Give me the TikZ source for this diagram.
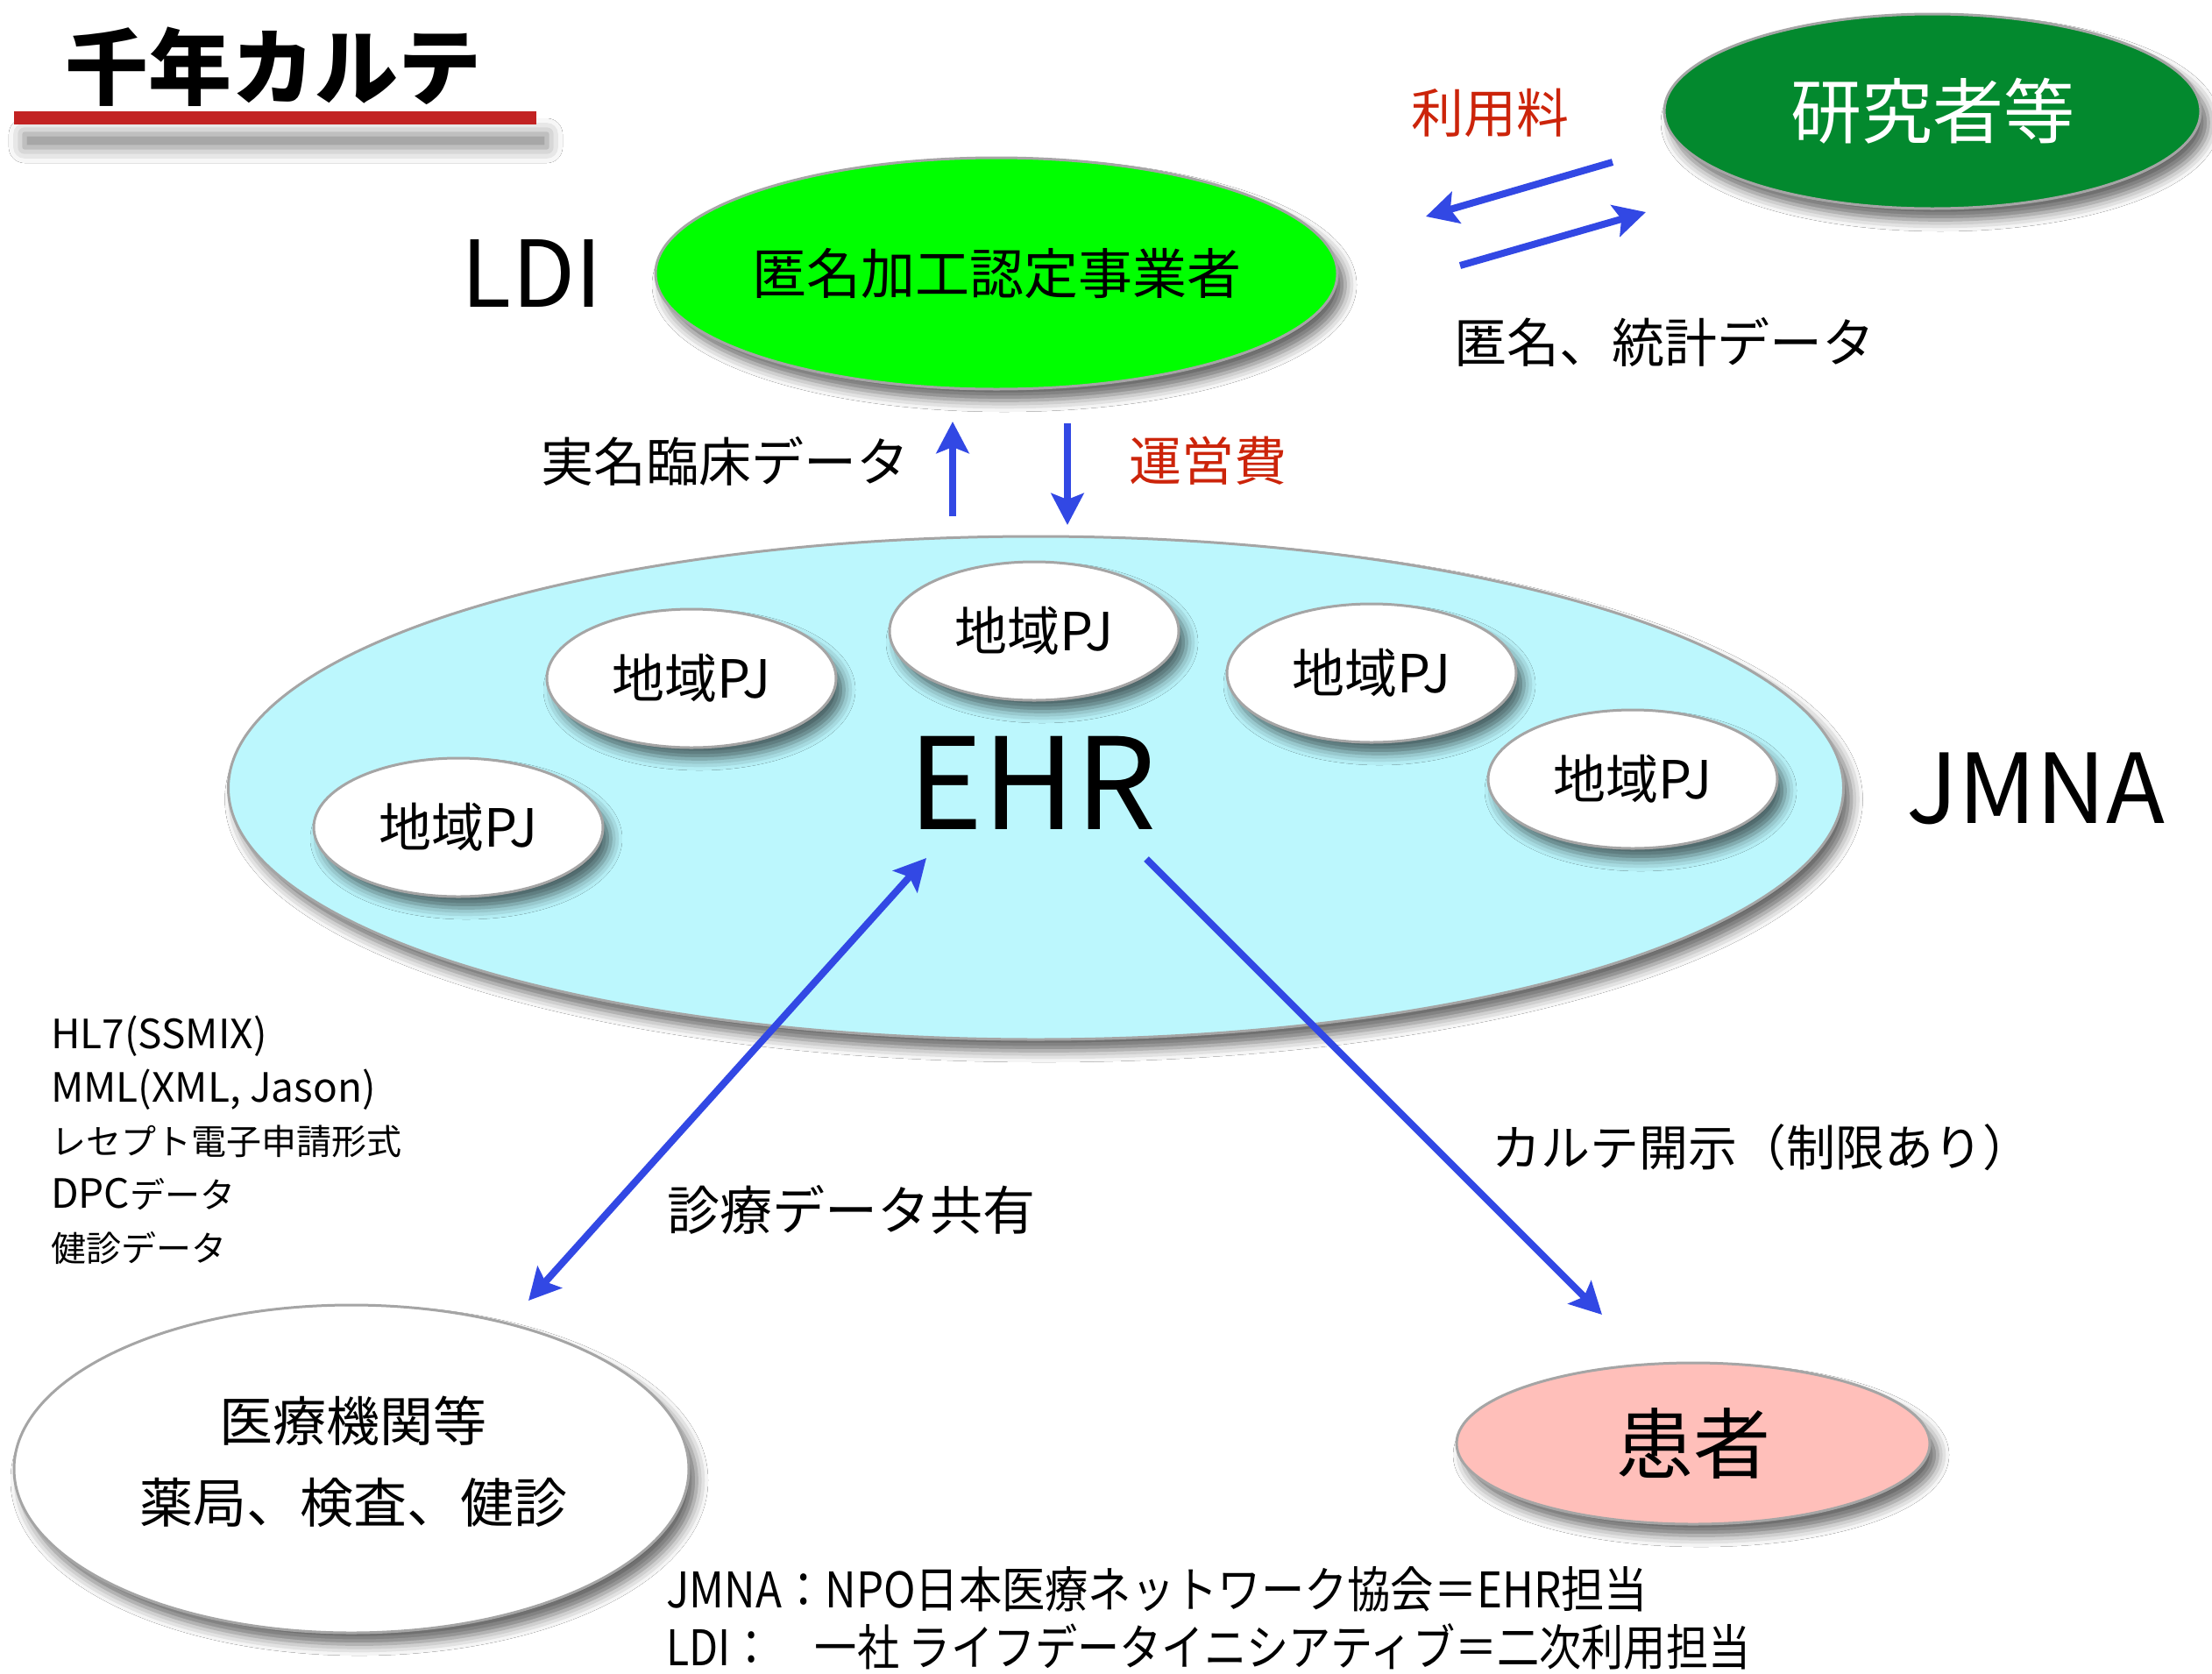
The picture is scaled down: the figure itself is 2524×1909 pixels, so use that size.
\documentclass[tikz,border=0pt]{standalone}
\usepackage{fontspec}
\setmainfont{Noto Sans CJK JP}
\newfontfamily\narrowjpA[FakeStretch=0.88]{Noto Sans CJK JP}
\newfontfamily\narrowjpB[FakeStretch=0.86]{Noto Sans CJK JP}
\usetikzlibrary{shapes.geometric,arrows.meta,shadows.blur}
\definecolor{arrowblue}{RGB}{50,72,228}
\definecolor{labelred}{RGB}{204,36,10}
\definecolor{titlered}{RGB}{194,34,34}
\definecolor{ldigreen}{RGB}{0,255,0}
\definecolor{resgreen}{RGB}{3,137,46}
\definecolor{ehrcyan}{RGB}{188,247,253}
\definecolor{kanpink}{RGB}{255,191,186}
\definecolor{ovalgray}{RGB}{165,165,165}
\newcommand{\lat}[1]{{\fontsize{46}{46}\selectfont #1}}
\begin{document}
\begin{tikzpicture}[x=1pt,y=-1pt,
  fs/.style={font=\fontsize{#1}{#1}\selectfont},
  oval/.style={ellipse, draw=ovalgray, line width=3pt, inner sep=0pt,
    blur shadow={shadow xshift=9pt, shadow yshift=-13pt, shadow blur radius=13pt, shadow opacity=60}},
  flow/.style={draw=arrowblue, line width=8pt, -{Stealth[length=36pt,width=37pt,inset=7pt]}},
  dflow/.style={draw=arrowblue, line width=8pt, {Stealth[length=36pt,width=37pt,inset=7pt]}-{Stealth[length=36pt,width=37pt,inset=7pt]}},
  txt/.style={inner sep=0pt, text=black},
  pjbox/.style={oval, fill=white, minimum width=330pt, minimum height=158pt}]
\useasboundingbox (0,0) rectangle (2524,1909);
\fill[white] (0,0) rectangle (2524,1909);

% title
\node[fill=titlered, minimum width=596pt, minimum height=15pt, inner sep=0pt,
  blur shadow={shadow xshift=12pt, shadow yshift=-26pt, shadow blur radius=18pt, shadow opacity=50}] (bar) at (314,134.5) {};
\node[txt, font=\bfseries\fontsize{95}{95}\selectfont] (title) at (312,76) {千年カルテ};

% main ovals
\node[oval, fill=ehrcyan, minimum width=1843pt, minimum height=574pt] (ehr) at (1182,899) {};
\node[oval, fill=ldigreen, minimum width=778pt, minimum height=264pt] (ldi) at (1137,312) {};
\node[txt, fs=62] (ldiT) at (ldi) {匿名加工認定事業者};
\node[oval, fill=resgreen, minimum width=612pt, minimum height=222pt] (res) at (2205,127) {};
\node[txt, fs=81, text=white] (resT) at (res) {研究者等};

% regional projects
\node[pjbox] (pj1) at (789,774) {};
\node[pjbox] (pj2) at (1180,720) {};
\node[pjbox] (pj3) at (1565,768) {};
\node[pjbox] (pj4) at (523,944) {};
\node[pjbox] (pj5) at (1863,889) {};
\foreach \p in {pj1,pj2,pj3,pj4,pj5}{
  \node[txt, fs=60] (\p T) at (\p) {地域PJ};
}

\node[txt, fs=145] (ehrT) at (1178,893) {EHR};
\node[txt, fs=110] (jmna) at (2323,900) {JMNA};
\node[txt, fs=105] (ldiL) at (607,312) {LDI};

% lower ovals
\node[oval, fill=white, minimum width=770pt, minimum height=374pt] (med) at (401,1676) {};
\node[txt, fs=61] (medT1) at (403,1621) {医療機関等};
\node[txt, fs=61] (medT2) at (403,1714) {薬局、検査、健診};
\node[oval, fill=kanpink, minimum width=540pt, minimum height=184pt] (pat) at (1932,1647) {};
\node[txt, fs=88] (patT) at (pat) {患者};

% labels
\node[txt, fs=60, text=labelred] (fee) at (1700,129) {利用料};
\node[txt, fs=60] (anon) at (1899,390) {匿名、統計データ};
\node[txt, fs=60] (real) at (827,526) {実名臨床データ};
\node[txt, fs=60, text=labelred] (opfee) at (1378,526) {運営費};
\node[txt, fs=60] (share) at (971,1380) {診療データ共有};
\node[txt, fs=56, anchor=west] (disc) at (1702,1309) {カルテ開示（制限あり）};

% format list
\node[txt, fs=40, anchor=base west] (l1) at (58,1196) {\lat{HL7(SSMIX)}};
\node[txt, fs=40, anchor=base west] (l2) at (58,1257) {\lat{MML(XML, Jason)}};
\node[txt, fs=40, anchor=base west] (l3) at (58,1317) {レセプト電子申請形式};
\node[txt, fs=40, anchor=base west] (l4) at (58,1378) {\lat{DPC}データ};
\node[txt, fs=40, anchor=base west] (l5) at (58,1439) {健診データ};

% footnotes
\node[txt, anchor=west, font=\narrowjpA\fontsize{56}{56}\selectfont] (n1) at (760,1813) {JMNA：NPO日本医療ネットワーク協会＝EHR担当};
\node[txt, anchor=west, font=\narrowjpB\fontsize{56}{56}\selectfont] (n2) at (760,1879) {LDI：　一社 ライフデータイニシアティブ＝二次利用担当};

% arrows
\coordinate (a1s) at (1840,185); \coordinate (a1e) at (1627,247);
\coordinate (a2s) at (1666,303); \coordinate (a2e) at (1878,242);
\coordinate (upS) at (1087,589); \coordinate (upE) at (1087,481);
\coordinate (dnS) at (1218,483); \coordinate (dnE) at (1218,599);
\coordinate (shA) at (1057,979); \coordinate (shB) at (603,1484);
\coordinate (ptA) at (1308,980); \coordinate (ptB) at (1828,1500);
\draw[flow] (a1s) -- (a1e);
\draw[flow] (a2s) -- (a2e);
\draw[flow] (upS) -- (upE);
\draw[flow] (dnS) -- (dnE);
\draw[dflow] (shA) -- (shB);
\draw[flow] (ptA) -- (ptB);
\end{tikzpicture}
\end{document}
